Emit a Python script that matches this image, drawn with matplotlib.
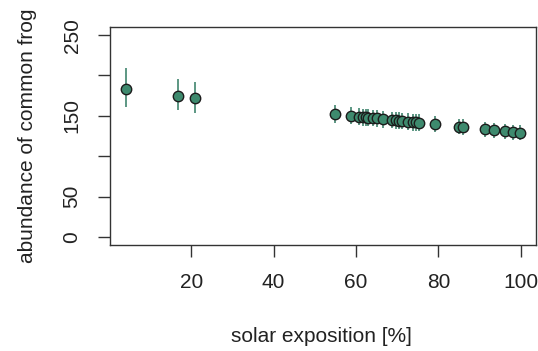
import matplotlib
matplotlib.use("Agg")
import matplotlib.pyplot as plt
import numpy as np

# solar exposition [%] vs abundance of common frog (mean with interval)
solar = [4.2, 16.8, 21.0, 55.0, 58.9, 60.8, 61.6, 62.4, 63.0, 64.2, 65.0, 66.6,
         68.8, 69.6, 70.4, 71.2, 72.6, 73.8, 74.6, 75.4, 79.2, 85.0, 86.0,
         91.4, 93.4, 96.2, 98.2, 99.8]
abundance = [183.0, 175.0, 171.6, 151.8, 150.0, 149.0, 148.6, 148.2, 147.9, 147.3,
             146.9, 146.0, 144.9, 144.5, 144.0, 143.6, 142.9, 142.3, 141.9, 141.4,
             139.5, 136.5, 136.0, 133.3, 132.2, 130.8, 129.7, 128.9]
lower = [161.0, 157.0, 154.0, 141.5, 139.5, 138.5, 138.0, 137.5, 137.4, 136.8,
         136.4, 135.5, 134.5, 134.0, 133.5, 133.1, 132.4, 131.8, 131.4, 131.0,
         129.5, 127.0, 126.5, 124.0, 123.0, 121.5, 120.5, 119.5]
upper = [209.0, 195.5, 192.0, 164.0, 160.5, 159.5, 159.0, 158.7, 158.4, 157.8,
         157.4, 156.5, 155.3, 154.9, 154.5, 154.1, 153.4, 152.8, 152.4, 151.9,
         149.5, 146.0, 145.5, 142.5, 141.5, 140.0, 139.0, 138.3]

xticks = [20, 40, 60, 80, 100]
yticks = [0, 50, 100, 150, 200, 250]
ytick_labels = ["0", "50", "", "150", "", "250"]

plt.rcParams["font.family"] = ["Liberation Sans", "DejaVu Sans"]

fig = plt.figure(figsize=(5.38, 3.51), dpi=100)
ax = fig.add_axes([0.2045, 0.302, 0.7918, 0.621])

y = np.array(abundance)
yerr = [y - np.array(lower), np.array(upper) - y]
ax.errorbar(solar, abundance, yerr=yerr, fmt="none", ecolor="#4f8f7a",
            elinewidth=1.3, capsize=0, zorder=2)
ax.plot(solar, abundance, "o", markersize=7.5, markerfacecolor="#3e8a6e",
        markeredgecolor="#1c1c1c", markeredgewidth=1.0, zorder=3)

ax.set_xlim(0.27, 103.7)
ax.set_ylim(-10, 260)
ax.set_xticks(xticks)
ax.set_yticks(yticks)
ax.set_yticklabels(ytick_labels, rotation=90, va="center")

for s in ax.spines.values():
    s.set_linewidth(1.0)
    s.set_color("#333333")
ax.tick_params(axis="both", direction="out", length=8.5, width=1.0,
               color="#333333", labelsize=15, labelcolor="#222222", pad=12)

ax.set_xlabel("solar exposition [%]", fontsize=15, color="#222222")
ax.xaxis.set_label_coords(0.497, -0.376)
ax.set_ylabel("abundance of common frog", fontsize=15, color="#222222")
ax.yaxis.set_label_coords(-0.171, 0.5)

fig.savefig("out.png", dpi=100)
